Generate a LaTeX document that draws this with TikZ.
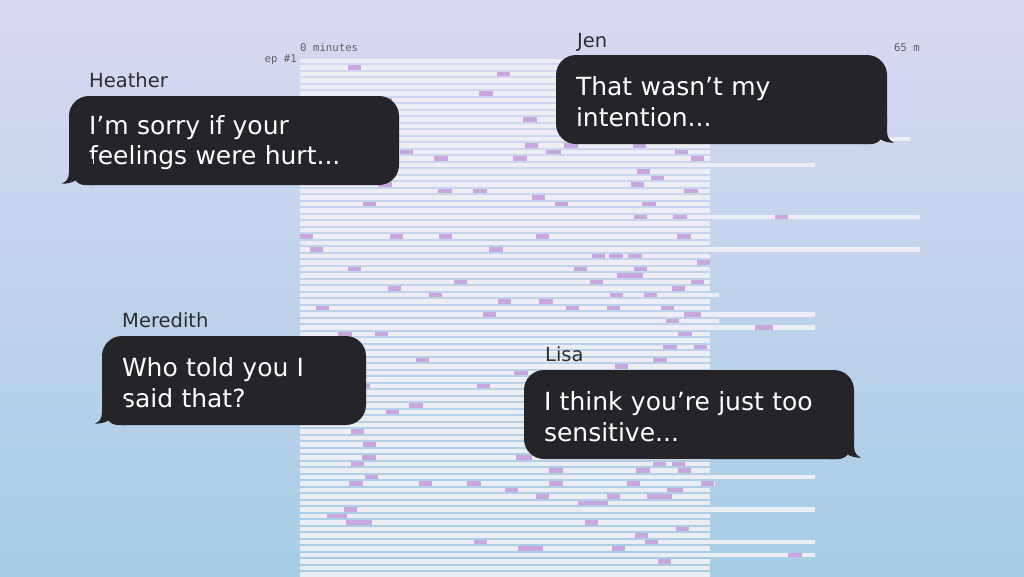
\documentclass[tikz,border=0pt]{standalone}
\usepackage{fontspec}
\setmainfont{DejaVu Sans}
\newfontfamily\monofont{DejaVu Sans Mono}
\definecolor{skytop}{RGB}{218,216,242}
\definecolor{skymid}{RGB}{198,213,236}
\definecolor{skybot}{RGB}{166,205,228}
\definecolor{rowwhite}{RGB}{240,241,244}
\definecolor{talkpurple}{RGB}{201,166,222}
\definecolor{bubblegray}{RGB}{37,37,41}
\definecolor{namegray}{RGB}{45,45,48}
\definecolor{axisgray}{RGB}{95,95,100}
\tikzset{
  bubble/.style={rectangle, fill=bubblegray, text=white, rounded corners=20pt,
    inner xsep=20pt, inner ysep=0pt, outer sep=0pt, minimum height=89pt,
    text height=23pt, align=left, anchor=north west, font=\fontsize{25}{30.5}\selectfont},
  who/.style={anchor=base west, inner sep=0pt, text=namegray,
    font=\fontsize{19.5}{22}\selectfont},
  axislbl/.style={inner sep=0pt, text=axisgray, font=\monofont\fontsize{10.7}{12}\selectfont},
  rowbar/.style={fill=rowwhite, fill opacity=0.92},
  talkbar/.style={fill=talkpurple},
  tail left/.pic={
    \fill[bubblegray] (0,-26) -- (0,-13) .. controls (0,-6) and (-3,-3) .. (-7,-1.5)
      .. controls (-2,-1) and (3,-2.5) .. (6.5,-4.5)
      .. controls (9,-1.5) and (12,0) .. (16,0) -- (24,0) -- (24,-26) -- cycle;},
  tail right/.pic={
    \fill[bubblegray] (0,-26) -- (0,-13) .. controls (0,-6) and (3,-3) .. (7,-1.5)
      .. controls (2,-1) and (-3,-2.5) .. (-6.5,-4.5)
      .. controls (-9,-1.5) and (-12,0) .. (-16,0) -- (-24,0) -- (-24,-26) -- cycle;}
}
\begin{document}
\begin{tikzpicture}[x=1pt, y=-1pt]
  \useasboundingbox (0,0) rectangle (1024,576);
  \shade[top color=skytop, middle color=skymid, bottom color=skybot] (0,0) rectangle (1024,576);

  % episodes
  \foreach \r in {0,...,79}
    \fill[rowbar] (300,{61+6.5*\r-2.3}) rectangle (710,{61+6.5*\r+2.3});
  \foreach \r/\e in {12/910, 16/815, 24/920, 29/920, 36/719, 39/815, 40/719, 41/815,
                     64/815, 65/715, 69/815, 74/815, 76/815}
    \fill[rowbar] (710,{61+6.5*\r-2.3}) rectangle (\e,{61+6.5*\r+2.3});
  \foreach \r/\a/\b in {1/348/361, 2/497/510, 5/479/493, 6/378/392, 9/523/537,
      13/525/538, 13/564/578, 13/633/646, 14/400/413, 14/546/561, 14/675/688,
      15/434/448, 15/513/527, 15/691/704, 17/637/650, 18/651/664, 19/378/392, 19/631/644,
      20/438/452, 20/473/487, 20/684/698, 21/532/545, 22/363/376, 22/555/568, 22/642/656,
      24/634/647, 24/673/687, 24/775/788, 27/300/313, 27/390/403, 27/439/452, 27/536/549,
      27/677/691, 29/310/323, 29/489/503, 30/592/605, 30/609/623, 30/628/642, 31/697/710,
      32/348/361, 32/574/587, 32/634/647, 33/617/643, 34/454/467, 34/590/603, 34/691/704,
      35/388/401, 35/672/685, 36/429/442, 36/610/623, 36/644/657, 37/498/511, 37/539/553,
      38/316/329, 38/566/579, 38/607/620, 38/661/674, 39/483/496, 39/684/701, 40/666/679,
      41/755/773, 42/338/352, 42/375/388, 42/678/692, 44/663/677, 44/694/707,
      46/416/429, 46/653/667, 47/615/628, 48/514/528, 50/356/370, 50/477/490,
      53/409/423, 54/386/399, 57/351/364, 59/363/376, 61/362/376, 61/516/532,
      62/351/364, 62/653/666, 62/672/685, 63/549/563, 63/636/650, 63/678/691, 64/365/378,
      65/349/363, 65/419/432, 65/467/481, 65/549/563, 65/627/640, 65/701/714,
      66/505/518, 66/667/683, 67/536/549, 67/607/620, 67/647/672, 68/578/608, 69/344/357,
      70/327/347, 71/346/372, 71/585/598, 72/676/689, 73/635/648, 74/474/487, 74/645/658,
      75/518/543, 75/612/625, 76/788/802, 77/658/671}
    \fill[talkbar] (\a,{61+6.5*\r-2.3}) rectangle (\b,{61+6.5*\r+2.3});

  \node[axislbl, anchor=west] (zero) at (300,48) {0 minutes};
  \node[axislbl, anchor=east] (end) at (920,48) {65 m};
  \node[axislbl, anchor=east] (ep) at (297,60) {ep \#1};

  % the four messages
  \node[bubble, minimum width=330pt, text width=290pt] (heather) at (69,96)
    {I’m sorry if your\\feelings were hurt...};
  \pic at (heather.south west) {tail left};
  \node[bubble, minimum width=331pt, text width=291pt] (jen) at (556,55)
    {That wasn’t my\\intention...};
  \pic at (jen.south east) {tail right};
  \node[bubble, minimum width=264pt, text width=224pt] (meredith) at (102,336)
    {Who told you I\\said that?};
  \pic at (meredith.south west) {tail left};
  \node[bubble, minimum width=330pt, text width=290pt] (lisa) at (524,370)
    {I think you’re just too\\sensitive...};
  \pic at (lisa.south east) {tail right};

  \node[who] (heathername) at ([xshift=20pt,yshift=9pt]heather.north west) {Heather};
  \node[who] (jenname) at ([xshift=21pt,yshift=8pt]jen.north west) {Jen};
  \node[who] (meredithname) at ([xshift=20pt,yshift=9pt]meredith.north west) {Meredith};
  \node[who] (lisaname) at ([xshift=21pt,yshift=8.5pt]lisa.north west) {Lisa};
\end{tikzpicture}
\end{document}
